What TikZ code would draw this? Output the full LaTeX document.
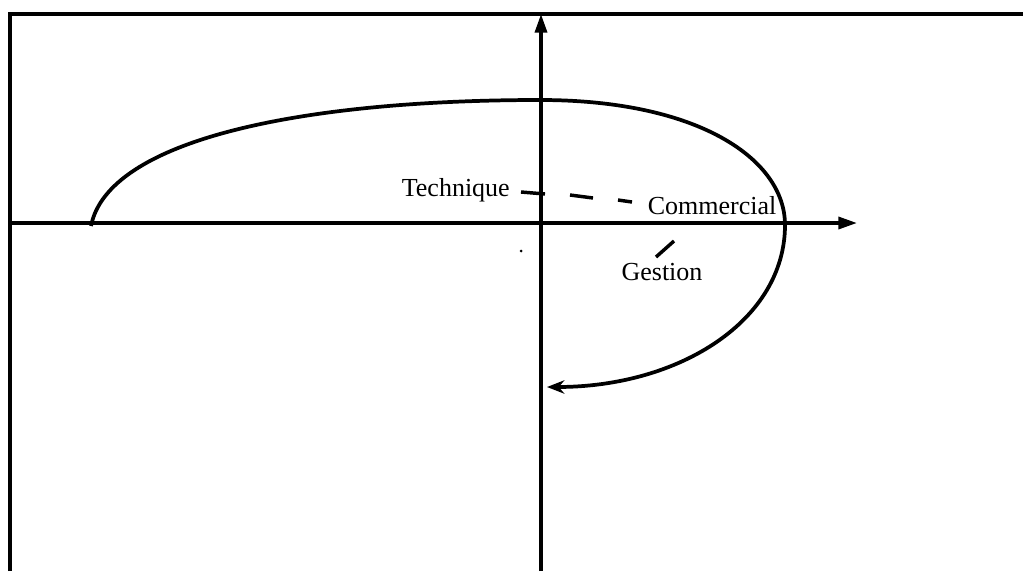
\documentclass[tikz,border=0pt]{standalone}
\usepackage{fontspec}
\setmainfont{Liberation Serif}
\usetikzlibrary{arrows.meta}
\begin{document}
\begin{tikzpicture}[x=0.75pt,y=-0.75pt,
  frame/.style={line width=3.2pt},
  axis/.style={line width=2.6pt,-{Triangle[length=14pt,width=9pt]}},
  curve/.style={line width=2.8pt,-{Stealth[length=13pt,width=10pt]}},
  lbl/.style={font=\fontsize{19.5}{21}\selectfont,inner sep=0pt},
  tick/.style={line width=2.6pt}]
\useasboundingbox (0,0) rectangle (1023,571);
% frame
\coordinate (tl) at (10,14);
\coordinate (tr) at (1023,14);
\coordinate (bl) at (10,571);
\draw[frame] (bl) -- (tl) -- (tr);
% axes
\coordinate (xo) at (10,223);
\coordinate (xe) at (857,223);
\coordinate (yo) at (541,571);
\coordinate (ye) at (541,14);
\draw[axis] (xo) -- (xe);
\draw[axis] (yo) -- (ye);
% curve
\coordinate (c0) at (91,226);
\coordinate (c1) at (540,100);
\coordinate (c2) at (785,225);
\coordinate (c3) at (547,387);
\draw[curve] (c0) .. controls (108,140) and (300,100) .. (c1)
  .. controls (700,100) and (785,160) .. (c2)
  .. controls (785,320) and (680,387) .. (c3);
% labels
\node[lbl,anchor=east] (tech) at (510,190) {Technique};
\node[lbl] (comm) at (712,206) {Commercial};
\node[lbl] (gest) at (662,272) {Gestion};
% dashed link
\coordinate (d1a) at (521,192);
\coordinate (d1b) at (545,194);
\coordinate (d2a) at (570,195);
\coordinate (d2b) at (593,198);
\coordinate (d3a) at (618,200);
\coordinate (d3b) at (632,202);
\draw[tick] (d1a) -- (d1b);
\draw[tick] (d2a) -- (d2b);
\draw[tick] (d3a) -- (d3b);
% gestion slash
\coordinate (g1) at (656,257);
\coordinate (g2) at (674,241);
\draw[tick] (g1) -- (g2);
% speck
\fill (521,251) circle (1.5);
\end{tikzpicture}
\end{document}
